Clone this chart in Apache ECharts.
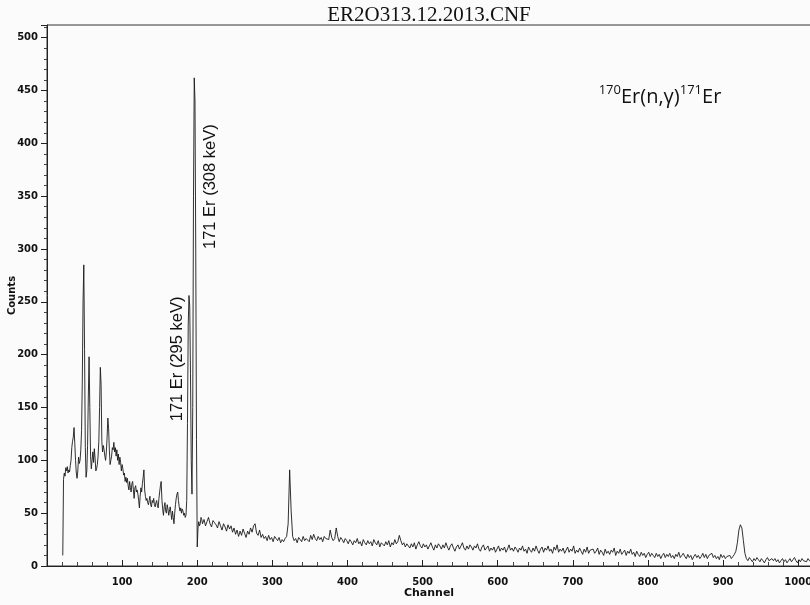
<!DOCTYPE html>
<html>
<head>
<meta charset="utf-8">
<title>ER2O313.12.2013.CNF</title>
<script src="https://cdn.jsdelivr.net/npm/echarts@6/dist/echarts.min.js"></script>
<style>
  html, body { margin: 0; padding: 0; background: #fbfbfb; }
  #main { width: 810px; height: 605px; }
</style>
</head>
<body>
<div id="main"></div>
<script>
// spectrum: channels 21..206 one by one
var lowStart = 21;
var lowCounts = [
  10, 82, 88, 85, 93, 90, 94, 88, 91, 89,
  95, 100, 112, 118, 122, 131, 116, 100, 88, 83,
  90, 103, 97, 100, 110, 128, 175, 250, 285, 205,
  112, 84, 90, 114, 160, 198, 150, 104, 92, 100,
  108, 98, 111, 102, 90, 92, 96, 104, 118, 150,
  188, 172, 118, 108, 114, 110, 104, 100, 108, 122,
  140, 130, 110, 96, 100, 104, 112, 110, 117, 108,
  112, 104, 110, 100, 106, 96, 103, 98, 90, 96,
  92, 86, 88, 80, 84, 79, 83, 76, 72, 80,
  74, 70, 78, 80, 72, 64, 74, 76, 70, 72,
  68, 62, 55, 66, 74, 70, 78, 84, 91, 72,
  66, 62, 64, 60, 58, 62, 66, 58, 56, 62,
  60, 64, 58, 56, 60, 62, 57, 55, 64, 70,
  76, 80, 62, 54, 48, 56, 60, 52, 50, 58,
  54, 48, 52, 56, 50, 44, 52, 46, 40, 50,
  58, 64, 68, 70, 62, 56, 52, 55, 50, 54,
  52, 48, 50, 46, 48, 62, 135, 228, 256, 246,
  182, 100, 68, 150, 350, 462, 440, 300, 120, 18,
  36, 42, 38, 40, 46, 44
];

// channels 207..1017, every second channel
var highStart = 207;
var highStep = 2;
var highCounts = [
  40, 44, 38, 42, 46, 40, 37, 43, 41, 39,
  36, 42, 38, 34, 40, 37, 33, 39, 35, 38,
  32, 36, 30, 34, 28, 33, 29, 35, 31, 27,
  33, 30, 36, 32, 38, 40, 31, 29, 34, 27,
  30, 26, 28, 24, 29, 25, 27, 23, 28, 26,
  24, 27, 22, 25, 23, 26, 28, 40, 91, 52,
  28, 24, 26, 22, 27, 25, 23, 28, 24, 26,
  27, 23, 29, 25, 30, 26, 24, 28, 25, 27,
  23, 28, 26, 27, 25, 34, 27, 24, 26, 36,
  28, 23, 27, 25, 22, 26, 24, 21, 25, 23,
  20, 24, 22, 26, 21, 23, 19, 25, 22, 20,
  24, 21, 23, 19, 25, 22, 20, 24, 18, 22,
  21, 19, 23, 20, 24, 18, 22, 20, 25, 21,
  23, 29, 24, 20, 22, 18, 21, 19, 17, 21,
  18, 22, 16, 20, 23, 19, 17, 21, 18, 20,
  16, 19, 22, 18, 15, 20, 17, 21, 19, 16,
  20, 17, 22, 18, 15, 19, 21, 17, 14, 18,
  20, 16, 19, 22, 17, 15, 19, 16, 20, 18,
  15, 19, 17, 21, 16, 14, 18, 20, 15, 17,
  19, 14, 17, 15, 18, 13, 16, 19, 14, 17,
  15, 18, 13, 16, 20, 15, 17, 14, 18, 16,
  13, 17, 15, 19, 14, 16, 12, 18, 15, 13,
  17, 14, 19, 15, 12, 16, 18, 13, 17, 15,
  19, 14, 16, 12, 18, 15, 20, 13, 16, 14,
  17, 12, 15, 18, 13, 16, 14, 19, 12, 15,
  13, 17, 14, 11, 16, 13, 18, 12, 15, 14,
  16, 12, 14, 17, 11, 15, 13, 10, 16, 12,
  14, 11, 15, 13, 17, 10, 14, 12, 16, 11,
  13, 15, 10, 14, 12, 16, 11, 13, 9, 14,
  11, 9, 13, 10, 12, 8, 11, 13, 9, 12,
  10, 8, 12, 9, 11, 7, 10, 12, 8, 11,
  9, 12, 8, 10, 7, 11, 9, 13, 8, 10,
  12, 9, 7, 11, 8, 10, 6, 9, 11, 8,
  10, 7, 9, 12, 8, 11, 7, 10, 9, 12,
  8, 10, 7, 9, 6, 11, 8, 10, 7, 9,
  8, 10, 7, 9, 11, 14, 22, 34, 39, 36,
  24, 12, 7, 5, 8, 6, 4, 7, 5, 8,
  6, 4, 7, 5, 3, 6, 8, 5, 4, 7,
  5, 7, 4, 6, 3, 5, 7, 4, 6, 3,
  5, 7, 4, 6, 8, 5, 3, 6, 4, 7,
  5, 6, 4, 7, 5, 6
];

var xTicks = [100, 200, 300, 400, 500, 600, 700, 800, 900, 1000];
var yTicks = [0, 50, 100, 150, 200, 250, 300, 350, 400, 450, 500];

// peak labels: [channel, counts] of the label centre
var peakLabels = [
  { text: '171 Er (295 keV)', at: [173, 196] },
  { text: '171 Er (308 keV)', at: [218, 359] }
];

var seriesData = [];
lowCounts.forEach(function (v, i) { seriesData.push([lowStart + i, v]); });
highCounts.forEach(function (v, i) { seriesData.push([highStart + i * highStep, v]); });

var chart = echarts.init(document.getElementById('main'), null, { renderer: 'canvas' });

var tickFont = { fontFamily: 'DejaVu Sans', fontSize: 10, fontWeight: 'bold', color: '#111' };

var option = {
  backgroundColor: '#fbfbfb',
  animation: false,
  title: {
    text: 'ER2O313.12.2013.CNF',
    left: 424,
    top: 0,
    textAlign: 'center',
    textStyle: { fontFamily: 'Liberation Serif', fontSize: 21, fontWeight: 'normal', color: '#111' }
  },
  grid: {
    left: 47, top: 25, right: -1, bottom: 39,
    outerBoundsMode: 'none',
    containLabel: false,
    show: true, borderColor: '#333', borderWidth: 1, backgroundColor: 'transparent'
  },
  xAxis: {
    type: 'value',
    min: 0, max: 1017, interval: 100,
    name: 'Channel',
    nameLocation: 'middle',
    nameGap: 22,
    nameMoveOverlap: false,
    nameTextStyle: { fontFamily: 'DejaVu Sans', fontSize: 11, fontWeight: 'bold', color: '#111' },
    axisLine: { lineStyle: { color: '#222', width: 1 } },
    axisTick: { inside: true, length: 6, lineStyle: { color: '#222' } },
    minorTick: { show: true, splitNumber: 5, length: 4, lineStyle: { color: '#444' } },
    splitLine: { show: false },
    axisLabel: Object.assign({
      margin: 11,
      showMaxLabel: false,
      formatter: function (v) { return xTicks.indexOf(v) >= 0 ? String(v) : ''; }
    }, tickFont)
  },
  yAxis: {
    type: 'value',
    min: 0, max: 512, interval: 50,
    name: 'Counts',
    nameLocation: 'middle',
    nameGap: 30,
    nameMoveOverlap: false,
    nameTextStyle: { fontFamily: 'DejaVu Sans', fontSize: 10, fontWeight: 'bold', color: '#111' },
    axisLine: { show: true, lineStyle: { color: '#222', width: 1 } },
    axisTick: { show: true, inside: false, length: 6, lineStyle: { color: '#222' } },
    minorTick: { show: true, splitNumber: 5, length: 3, lineStyle: { color: '#444' } },
    splitLine: { show: false },
    axisLabel: Object.assign({
      margin: 9,
      showMaxLabel: false,
      formatter: function (v) { return yTicks.indexOf(v) >= 0 ? String(v) : ''; }
    }, tickFont)
  },
  series: [{
    type: 'line',
    data: seriesData,
    showSymbol: false,
    symbol: 'none',
    lineStyle: { color: '#1a1a1a', width: 0.9 },
    z: 3
  }]
};

chart.setOption(option);

// place the text annotations from data coordinates
var graphics = peakLabels.map(function (p) {
  var px = chart.convertToPixel({ gridIndex: 0 }, p.at);
  return {
    type: 'text',
    x: px[0], y: px[1],
    rotation: Math.PI / 2,
    style: {
      text: p.text,
      fontFamily: 'Liberation Sans',
      fontSize: 16.5,
      fill: '#111',
      align: 'center',
      verticalAlign: 'middle'
    },
    z: 10
  };
});

graphics.push({
  type: 'text',
  x: 660, y: 97,
  style: {
    text: '{sup|170}{main|Er(n,γ)}{sup|171}{main|Er}',
    align: 'center',
    verticalAlign: 'middle',
    rich: {
      main: { fontFamily: 'Open Sans', fontSize: 20, lineHeight: 26, fill: '#111', color: '#111' },
      sup: { fontFamily: 'Open Sans', fontSize: 13, lineHeight: 14, verticalAlign: 'top', fill: '#111', color: '#111' }
    }
  },
  z: 10
});

chart.setOption({ graphic: graphics });
</script>
</body>
</html>
